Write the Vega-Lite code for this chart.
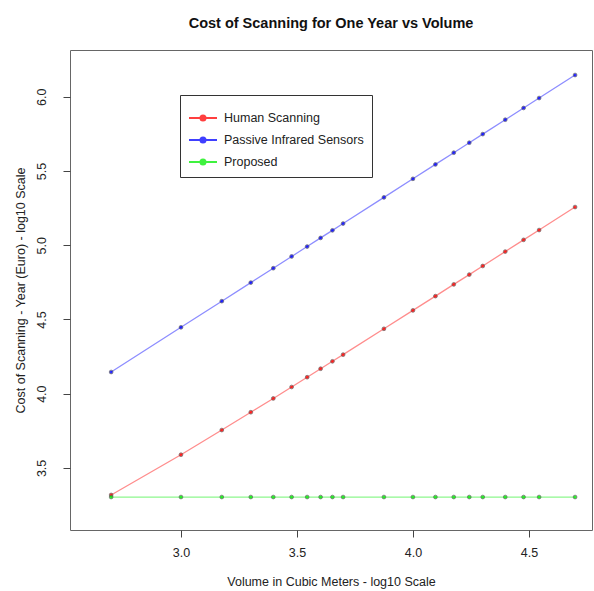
{
  "$schema": "https://vega.github.io/schema/vega-lite/v6.json",
  "width": 522,
  "height": 480,
  "autosize": {"type": "none"},
  "padding": {"left": 70, "top": 50, "right": 2, "bottom": 61},
  "background": "white",
  "title": {
    "text": "Cost of Scanning for One Year vs Volume",
    "font": "Liberation Sans",
    "fontSize": 14.5,
    "fontWeight": "bold",
    "color": "#111",
    "anchor": "middle",
    "offset": 19
  },
  "config": {
    "view": {"stroke": "#666", "strokeWidth": 1},
    "axis": {
      "labelFont": "Liberation Sans",
      "titleFont": "Liberation Sans",
      "labelFontSize": 12.5,
      "titleFontSize": 12.5,
      "titleFontWeight": "normal",
      "labelColor": "#222",
      "titleColor": "#222",
      "tickColor": "#444",
      "domain": false,
      "grid": false,
      "tickSize": 7
    }
  },
  "data": {
    "values": [
      {"logVolume": 2.699, "logCost": 3.318, "method": "Human Scanning"},
      {"logVolume": 3.000, "logCost": 3.589, "method": "Human Scanning"},
      {"logVolume": 3.176, "logCost": 3.755, "method": "Human Scanning"},
      {"logVolume": 3.301, "logCost": 3.875, "method": "Human Scanning"},
      {"logVolume": 3.398, "logCost": 3.968, "method": "Human Scanning"},
      {"logVolume": 3.477, "logCost": 4.045, "method": "Human Scanning"},
      {"logVolume": 3.544, "logCost": 4.111, "method": "Human Scanning"},
      {"logVolume": 3.602, "logCost": 4.168, "method": "Human Scanning"},
      {"logVolume": 3.653, "logCost": 4.218, "method": "Human Scanning"},
      {"logVolume": 3.699, "logCost": 4.263, "method": "Human Scanning"},
      {"logVolume": 3.875, "logCost": 4.437, "method": "Human Scanning"},
      {"logVolume": 4.000, "logCost": 4.561, "method": "Human Scanning"},
      {"logVolume": 4.097, "logCost": 4.657, "method": "Human Scanning"},
      {"logVolume": 4.176, "logCost": 4.736, "method": "Human Scanning"},
      {"logVolume": 4.243, "logCost": 4.802, "method": "Human Scanning"},
      {"logVolume": 4.301, "logCost": 4.860, "method": "Human Scanning"},
      {"logVolume": 4.398, "logCost": 4.957, "method": "Human Scanning"},
      {"logVolume": 4.477, "logCost": 5.036, "method": "Human Scanning"},
      {"logVolume": 4.544, "logCost": 5.102, "method": "Human Scanning"},
      {"logVolume": 4.699, "logCost": 5.257, "method": "Human Scanning"},
      {"logVolume": 2.699, "logCost": 4.146, "method": "Passive Infrared Sensors"},
      {"logVolume": 3.000, "logCost": 4.447, "method": "Passive Infrared Sensors"},
      {"logVolume": 3.176, "logCost": 4.623, "method": "Passive Infrared Sensors"},
      {"logVolume": 3.301, "logCost": 4.748, "method": "Passive Infrared Sensors"},
      {"logVolume": 3.398, "logCost": 4.845, "method": "Passive Infrared Sensors"},
      {"logVolume": 3.477, "logCost": 4.924, "method": "Passive Infrared Sensors"},
      {"logVolume": 3.544, "logCost": 4.991, "method": "Passive Infrared Sensors"},
      {"logVolume": 3.602, "logCost": 5.049, "method": "Passive Infrared Sensors"},
      {"logVolume": 3.653, "logCost": 5.100, "method": "Passive Infrared Sensors"},
      {"logVolume": 3.699, "logCost": 5.146, "method": "Passive Infrared Sensors"},
      {"logVolume": 3.875, "logCost": 5.322, "method": "Passive Infrared Sensors"},
      {"logVolume": 4.000, "logCost": 5.447, "method": "Passive Infrared Sensors"},
      {"logVolume": 4.097, "logCost": 5.544, "method": "Passive Infrared Sensors"},
      {"logVolume": 4.176, "logCost": 5.623, "method": "Passive Infrared Sensors"},
      {"logVolume": 4.243, "logCost": 5.690, "method": "Passive Infrared Sensors"},
      {"logVolume": 4.301, "logCost": 5.748, "method": "Passive Infrared Sensors"},
      {"logVolume": 4.398, "logCost": 5.845, "method": "Passive Infrared Sensors"},
      {"logVolume": 4.477, "logCost": 5.924, "method": "Passive Infrared Sensors"},
      {"logVolume": 4.544, "logCost": 5.991, "method": "Passive Infrared Sensors"},
      {"logVolume": 4.699, "logCost": 6.146, "method": "Passive Infrared Sensors"},
      {"logVolume": 2.699, "logCost": 3.304, "method": "Proposed"},
      {"logVolume": 3.000, "logCost": 3.304, "method": "Proposed"},
      {"logVolume": 3.176, "logCost": 3.304, "method": "Proposed"},
      {"logVolume": 3.301, "logCost": 3.304, "method": "Proposed"},
      {"logVolume": 3.398, "logCost": 3.304, "method": "Proposed"},
      {"logVolume": 3.477, "logCost": 3.304, "method": "Proposed"},
      {"logVolume": 3.544, "logCost": 3.304, "method": "Proposed"},
      {"logVolume": 3.602, "logCost": 3.304, "method": "Proposed"},
      {"logVolume": 3.653, "logCost": 3.304, "method": "Proposed"},
      {"logVolume": 3.699, "logCost": 3.304, "method": "Proposed"},
      {"logVolume": 3.875, "logCost": 3.304, "method": "Proposed"},
      {"logVolume": 4.000, "logCost": 3.304, "method": "Proposed"},
      {"logVolume": 4.097, "logCost": 3.304, "method": "Proposed"},
      {"logVolume": 4.176, "logCost": 3.304, "method": "Proposed"},
      {"logVolume": 4.243, "logCost": 3.304, "method": "Proposed"},
      {"logVolume": 4.301, "logCost": 3.304, "method": "Proposed"},
      {"logVolume": 4.398, "logCost": 3.304, "method": "Proposed"},
      {"logVolume": 4.477, "logCost": 3.304, "method": "Proposed"},
      {"logVolume": 4.544, "logCost": 3.304, "method": "Proposed"},
      {"logVolume": 4.699, "logCost": 3.304, "method": "Proposed"}
    ]
  },
  "encoding": {
    "x": {
      "field": "logVolume",
      "type": "quantitative",
      "scale": {"domain": [2.5216, 4.772], "nice": false, "zero": false},
      "axis": {
        "values": [3.0, 3.5, 4.0, 4.5],
        "format": ".1f",
        "labelPadding": 9,
        "labelBaseline": "top",
        "title": "Volume in Cubic Meters - log10 Scale",
        "titleX": 261,
        "titleY": 51,
        "titleBaseline": "middle",
        "titleAnchor": "middle"
      }
    },
    "y": {
      "field": "logCost",
      "type": "quantitative",
      "scale": {"domain": [3.082, 6.3145], "nice": false, "zero": false},
      "axis": {
        "values": [3.5, 4.0, 4.5, 5.0, 5.5, 6.0],
        "format": ".1f",
        "labelAngle": -90,
        "labelAlign": "center",
        "labelBaseline": "bottom",
        "labelPadding": 15,
        "title": "Cost of Scanning - Year (Euro) - log10 Scale",
        "titleAngle": -90,
        "titleX": -50,
        "titleY": 240,
        "titleBaseline": "middle",
        "titleAlign": "center"
      }
    },
    "color": {
      "field": "method",
      "type": "nominal",
      "scale": {
        "domain": ["Human Scanning", "Passive Infrared Sensors", "Proposed"],
        "range": ["#ff0000", "#0000ff", "#00ee00"]
      },
      "legend": {
        "title": null,
        "orient": "none",
        "legendX": 110,
        "legendY": 45,
        "direction": "vertical",
        "strokeColor": "#333",
        "fillColor": "white",
        "padding": 8,
        "rowPadding": -4.5,
        "labelFont": "Liberation Sans",
        "labelFontSize": 12.5,
        "labelColor": "#222",
        "labelOffset": 6,
        "symbolType": "M-1,0L1,0M-0.18,0A0.18,0.18,0,1,0,0.18,0A0.18,0.18,0,1,0,-0.18,0Z",
        "symbolSize": 784,
        "symbolStrokeWidth": 2,
        "symbolOpacity": 1,
        "encode": {
          "symbols": {
            "update": {
              "fill": {"scale": "color", "field": "value"},
              "stroke": {"scale": "color", "field": "value"},
              "opacity": {"value": 0.75}
            }
          }
        }
      }
    }
  },
  "layer": [
    {
      "mark": {"type": "line", "strokeWidth": 1.3, "opacity": 0.45}
    },
    {
      "mark": {"type": "point", "filled": true, "size": 14, "opacity": 0.8, "stroke": "#555", "strokeWidth": 0.8}
    }
  ]
}
